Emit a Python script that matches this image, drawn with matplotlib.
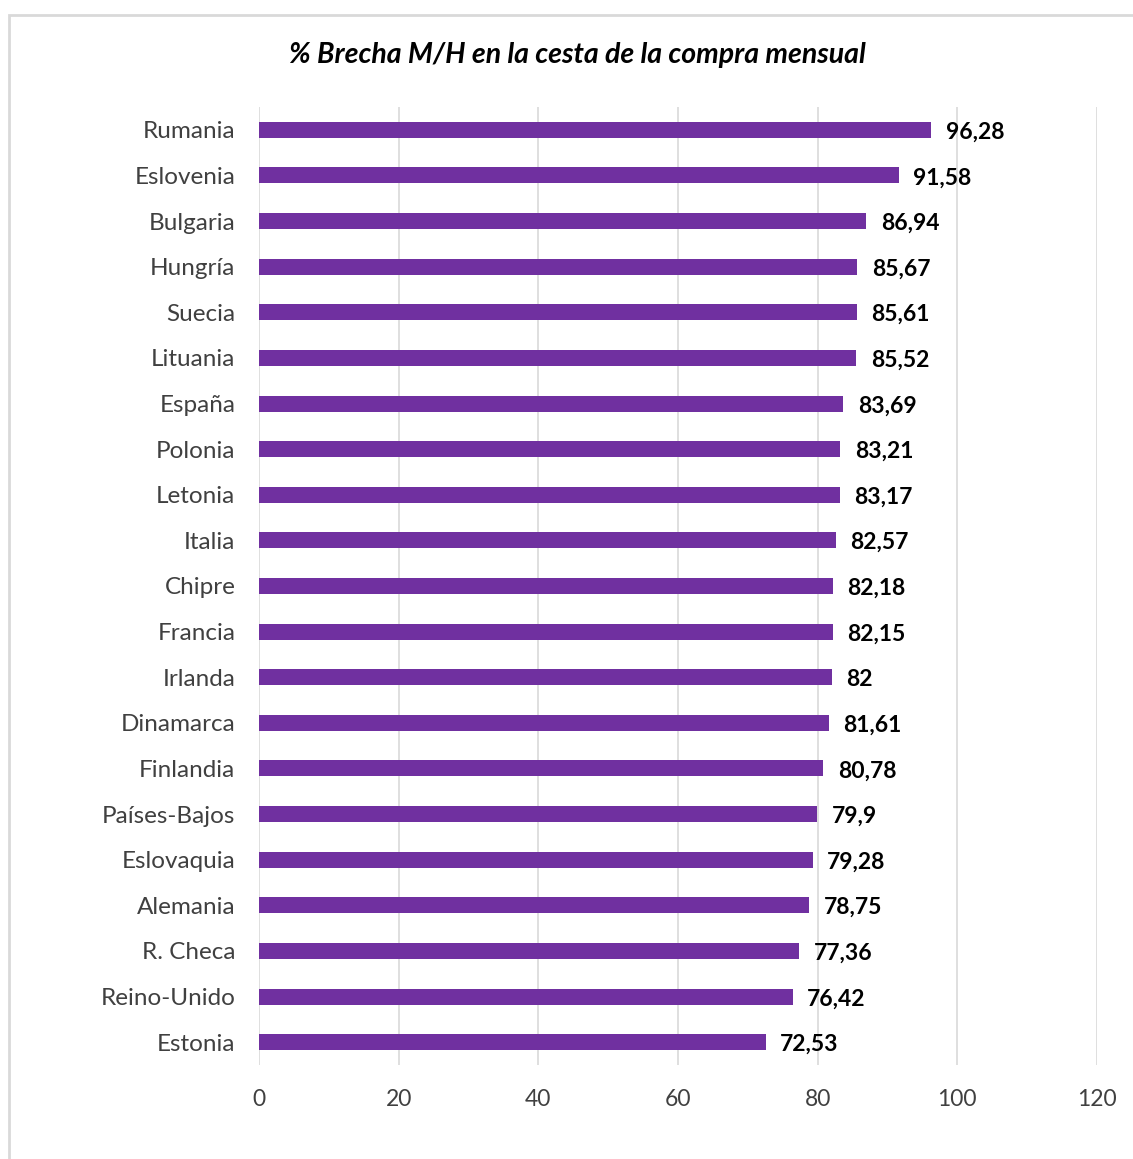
import matplotlib.pyplot as plt
from matplotlib.patches import Rectangle

paises = ['Rumania', 'Eslovenia', 'Bulgaria', 'Hungría', 'Suecia', 'Lituania',
          'España', 'Polonia', 'Letonia', 'Italia', 'Chipre', 'Francia',
          'Irlanda', 'Dinamarca', 'Finlandia', 'Países-Bajos', 'Eslovaquia',
          'Alemania', 'R. Checa', 'Reino-Unido', 'Estonia']
brecha = [96.28, 91.58, 86.94, 85.67, 85.61, 85.52, 83.69, 83.21, 83.17,
          82.57, 82.18, 82.15, 82, 81.61, 80.78, 79.9, 79.28, 78.75, 77.36,
          76.42, 72.53]
xticks = [0, 20, 40, 60, 80, 100, 120]

plt.rcParams['font.family'] = ['Lato', 'DejaVu Sans']

fig = plt.figure(figsize=(11.33, 11.59), dpi=100)
# chart frame like the spreadsheet chart area
fig.patches.append(Rectangle((9 / 1133, -0.05), 1.1, 1 - 15 / 1159 + 0.05,
                             transform=fig.transFigure, fill=False,
                             edgecolor='#D9D9D9', linewidth=2))

ax = fig.add_axes([259 / 1133, 1 - 1065 / 1159, 838 / 1133, 958 / 1159])
y = list(range(len(paises)))
ax.barh(y, brecha, height=0.35, color='#7030A0', zorder=3)

for yi, v in zip(y, brecha):
    txt = f'{v:g}'.replace('.', ',')
    ax.text(v + 2.1, yi + 0.05, txt, va='center', ha='left', fontsize=16.5,
            fontweight='bold', color='black')

ax.set_yticks(y)
ax.set_yticklabels(paises, fontsize=17.5, color='#404040')
ax.set_xticks(xticks)
ax.set_xticklabels([str(t) for t in xticks], fontsize=16.5, color='#404040')
ax.set_xlim(0, 120)
ax.set_ylim(len(paises) - 0.5, -0.5)
ax.tick_params(length=0)
ax.tick_params(axis='y', pad=17)
ax.tick_params(axis='x', pad=17)
ax.grid(axis='x', color='#D9D9D9', linewidth=1.2, zorder=0)
for s in ax.spines.values():
    s.set_visible(False)

fig.text(577 / 1133, 1 - 55 / 1159, '% Brecha M/H en la cesta de la compra mensual',
         ha='center', va='center', fontsize=20.5, fontweight='bold',
         fontstyle='italic', color='black')

fig.savefig('out.png', dpi=100)
